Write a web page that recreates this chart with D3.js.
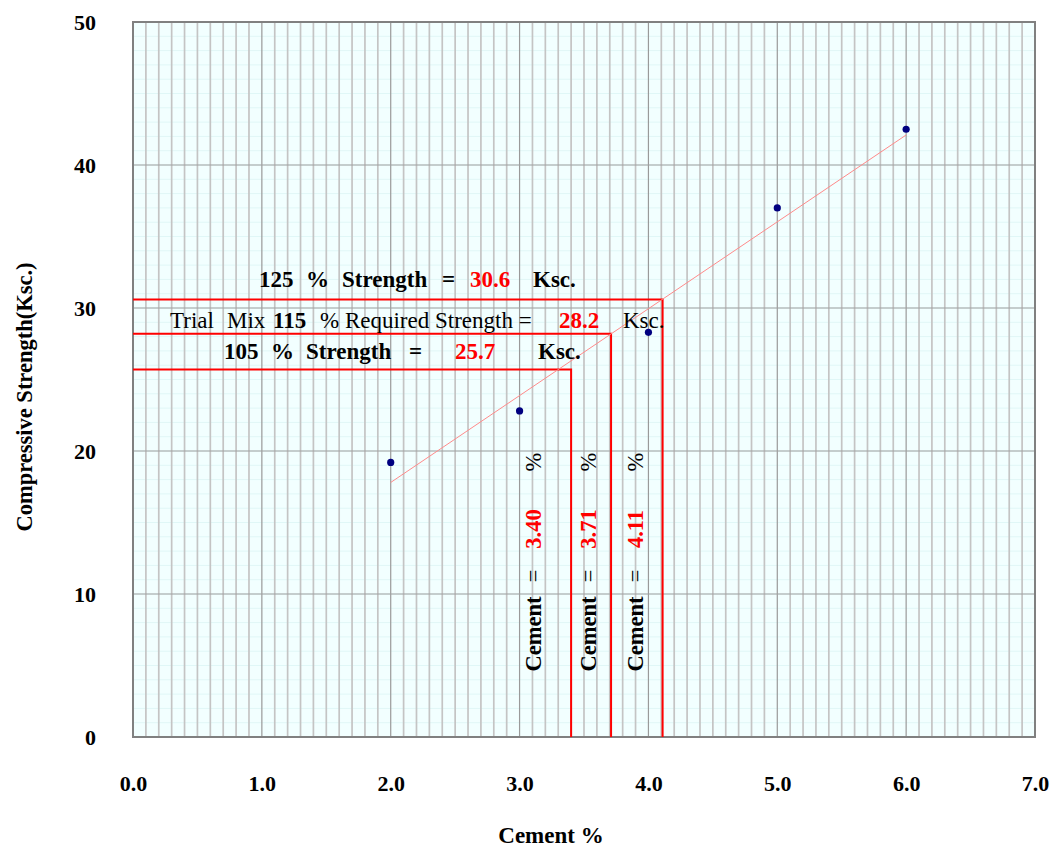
<!DOCTYPE html>
<html>
<head>
<meta charset="utf-8">
<script src="https://cdn.jsdelivr.net/npm/d3@7"></script>
<style>
  html, body { margin: 0; padding: 0; background: #ffffff; }
  svg { display: block; font-family: "Liberation Serif", "Times New Roman", serif; }
</style>
</head>
<body>
<svg id="chart" width="1056" height="848"></svg>
<script>
// Test results: cement content (%) vs compressive strength (Ksc.)
const cementPct = [2, 3, 4, 5, 6];
const strength = [19.2, 22.8, 28.3, 37.0, 42.5];

// Linear trend line end points
const trendX = [2, 6];
const trendY = [17.8, 42.1];

// Target strengths and the cement contents
const targetPct = [125, 115, 105];
const targetStrength = [30.6, 28.2, 25.7];
const targetCement = [4.11, 3.71, 3.40];

// Axis ticks
const xTicks = [0, 1, 2, 3, 4, 5, 6, 7];
const yTicks = [0, 10, 20, 30, 40, 50];

const svg = d3.select("#chart");
const plotL = 133, plotR = 1035, plotT = 22, plotB = 737;

const x = d3.scaleLinear().domain([0, 7]).range([plotL, plotR]);
const y = d3.scaleLinear().domain([0, 50]).range([plotB, plotT]);

// plot background
svg.append("rect")
  .attr("x", plotL).attr("y", plotT)
  .attr("width", plotR - plotL).attr("height", plotB - plotT)
  .attr("fill", "#f2ffff");

const grid = svg.append("g");

// faint horizontal minor lines
grid.selectAll(".hmin").data(d3.range(0, 50.01, 1))
  .join("line")
  .attr("x1", plotL).attr("x2", plotR)
  .attr("y1", d => y(d)).attr("y2", d => y(d))
  .attr("stroke", "#e0f7f7").attr("stroke-width", 1);

// vertical minor lines every 0.1
grid.selectAll(".vmin").data(d3.range(1, 70).filter(i => i % 10 !== 0).map(i => i / 10))
  .join("line")
  .attr("x1", d => x(d)).attr("x2", d => x(d))
  .attr("y1", plotT).attr("y2", plotB)
  .attr("stroke", "#c4c4c4").attr("stroke-width", 1.7);

// major vertical lines
grid.selectAll(".vmaj").data(xTicks.slice(1, -1))
  .join("line")
  .attr("x1", d => x(d)).attr("x2", d => x(d))
  .attr("y1", plotT).attr("y2", plotB)
  .attr("stroke", "#9a9a9a").attr("stroke-width", 1.2);

// major horizontal lines
grid.selectAll(".hmaj").data(yTicks.slice(1, -1))
  .join("line")
  .attr("x1", plotL).attr("x2", plotR)
  .attr("y1", d => y(d)).attr("y2", d => y(d))
  .attr("stroke", "#a0a0a0").attr("stroke-width", 1.2);

// plot border
svg.append("rect")
  .attr("x", plotL).attr("y", plotT)
  .attr("width", plotR - plotL).attr("height", plotB - plotT)
  .attr("fill", "none").attr("stroke", "#808080").attr("stroke-width", 2);

// axes (labels only)
const xAxis = d3.axisBottom(x).tickValues(xTicks).tickFormat(d3.format(".1f")).tickSize(0).tickPadding(38);
const gx = svg.append("g").attr("transform", `translate(0,${plotB})`).call(xAxis);
gx.select(".domain").remove();
gx.selectAll("text").attr("font-family", "Liberation Serif").attr("font-size", 22)
  .attr("font-weight", "bold").attr("fill", "#000");

const yAxis = d3.axisLeft(y).tickValues(yTicks).tickFormat(d3.format("d")).tickSize(0).tickPadding(37);
const gy = svg.append("g").attr("transform", `translate(${plotL},0)`).call(yAxis);
gy.select(".domain").remove();
gy.selectAll("text").attr("font-family", "Liberation Serif").attr("font-size", 22)
  .attr("font-weight", "bold").attr("fill", "#000");

// axis titles
svg.append("text")
  .attr("x", 551).attr("y", 843)
  .attr("text-anchor", "middle")
  .attr("font-size", 23).attr("font-weight", "bold")
  .text("Cement %");

svg.append("text")
  .attr("transform", "translate(32,397) rotate(-90)")
  .attr("text-anchor", "middle")
  .attr("font-size", 22.5).attr("font-weight", "bold")
  .text("Compressive Strength(Ksc.)");

// red guide lines: horizontal to the trend line, then down to the x axis
const guides = svg.append("g");
targetStrength.forEach((s, i) => {
  const cx = targetCement[i];
  guides.append("path")
    .attr("d", `M${x(0)},${y(s)}H${x(cx)}V${y(0)}`)
    .attr("fill", "none").attr("stroke", "#ff0000").attr("stroke-width", 2);
});

// trend line
svg.append("line")
  .attr("x1", x(trendX[0])).attr("y1", y(trendY[0]))
  .attr("x2", x(trendX[1])).attr("y2", y(trendY[1]))
  .attr("stroke", "#ff8a8a").attr("stroke-width", 1);

// data points
svg.selectAll(".pt").data(cementPct)
  .join("circle")
  .attr("cx", d => x(d))
  .attr("cy", (d, i) => y(strength[i]))
  .attr("r", 3.6)
  .attr("fill", "#000080");

// strength labels
function label(parts, baseY, size) {
  const t = svg.append("text").attr("y", baseY).attr("font-size", size);
  parts.forEach(p => {
    t.append("tspan")
      .attr("x", p.x)
      .attr("font-weight", p.bold ? "bold" : "normal")
      .attr("fill", p.red ? "#ff0000" : "#000")
      .text(p.t);
  });
}

label([
  { t: `${targetPct[0]}`, x: 259, bold: true },
  { t: "%", x: 306, bold: true },
  { t: "Strength", x: 342, bold: true },
  { t: "=", x: 442, bold: true },
  { t: targetStrength[0].toFixed(1), x: 470, bold: true, red: true },
  { t: "Ksc.", x: 533, bold: true }
], 287, 23);

label([
  { t: "Trial", x: 170 },
  { t: "Mix", x: 227 },
  { t: `${targetPct[1]}`, x: 273, bold: true },
  { t: "% Required Strength =", x: 320 },
  { t: targetStrength[1].toFixed(1), x: 559, bold: true, red: true },
  { t: "Ksc.", x: 623 }
], 328, 23);

label([
  { t: `${targetPct[2]}`, x: 224, bold: true },
  { t: "%", x: 271, bold: true },
  { t: "Strength", x: 306, bold: true },
  { t: "=", x: 409, bold: true },
  { t: targetStrength[2].toFixed(1), x: 455, bold: true, red: true },
  { t: "Ksc.", x: 538, bold: true }
], 359, 23);

// vertical cement labels
const colX = [635, 588, 533];
targetCement.forEach((c, i) => {
  const cx = colX[i] + 8;
  const g = svg.append("g");
  const put = (txt, yy, opts) => {
    g.append("text")
      .attr("transform", `translate(${cx},${yy}) rotate(-90)`)
      .attr("text-anchor", "middle")
      .attr("font-size", 22.5)
      .attr("font-weight", opts.bold ? "bold" : "normal")
      .attr("fill", opts.red ? "#ff0000" : "#000")
      .text(txt);
  };
  put("Cement", 634, { bold: true });
  put("=", 576, { bold: false });
  put(c.toFixed(2), 529, { bold: true, red: true });
  put("%", 462, { bold: false });
});
</script>
</body>
</html>
